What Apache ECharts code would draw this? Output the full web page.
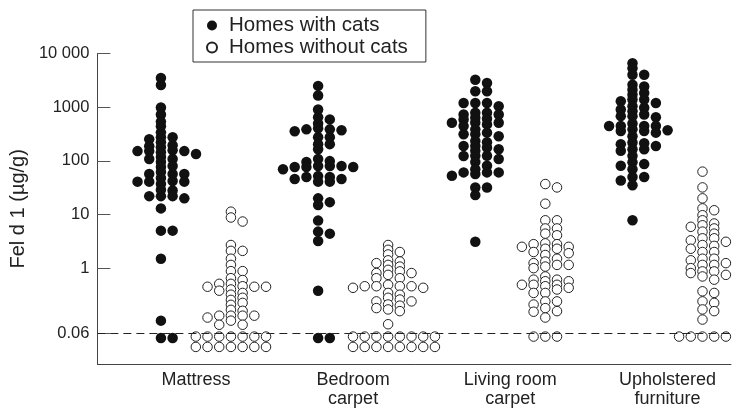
<!DOCTYPE html>
<html>
<head>
<meta charset="utf-8">
<script src="https://cdn.jsdelivr.net/npm/echarts@6/dist/echarts.min.js"></script>
<style>html,body{margin:0;padding:0;background:#fff}#c{width:734px;height:409px}</style>
</head>
<body>
<div id="c"></div>
<script>
// ---- Data ----
const categories = ['Mattress', 'Bedroom\ncarpet', 'Living room\ncarpet', 'Upholstered\nfurniture'];
const seriesNames = ['Homes with cats', 'Homes without cats'];
const yTickValues = [0.06, 1, 10, 100, 1000, 10000];
const yTickLabels = ['0.06', '1', '10', '100', '1000', '10 000'];
const detectionLimit = 0.06;

const mattressCats = [3500, 2600, 990, 730, 540, 440, 275, 196, 145, 108, 80, 62, 48, 37, 29, 22, 13, 5, 1.5, 0.105, 0.05,
  340, 223, 152, 108, 77, 57, 41, 22, 5, 0.05,
  152, 57, 152,
  275, 188, 134, 95, 57, 41, 28, 20,
  253, 180, 118, 42, 22,
  158, 41];
const bedroomCats = [2500, 1650, 910, 650, 500, 371, 275, 205, 165, 99, 77, 50, 20, 15, 7.7, 4.4, 3.2, 0.38, 0.05,
  387, 275, 205, 95, 70, 50, 17,
  404, 77, 41, 77, 41,
  593, 387, 108, 80, 46, 4.8, 0.05,
  356, 80, 52, 80, 46];
const livingCats = [3250, 1980, 1200, 790, 521, 387, 287, 223, 165, 123, 95, 70, 57, 32, 23, 3.1,
  2830, 1980, 1200, 790, 446, 313, 235, 154, 108, 81, 61,
  1200, 733, 479, 313, 178, 124, 61, 32,
  733, 515, 336, 190, 53,
  1040, 637, 515, 190, 124, 61,
  610, 593];
const upholsteredCats = [6600, 5350, 4020, 2120, 1290, 844, 650, 500, 371, 287, 213, 165, 124, 87, 70, 43, 35, 7.8,
  4020, 2440, 1850, 1390, 1040, 733, 446, 360, 220, 165, 94, 50,
  446, 360,
  2630, 1720, 1390, 975, 682, 446, 336, 205, 154, 81, 50,
  1200, 906, 682, 446, 190,
  387];

const mattressNoCats = [11.3, 8.8, 2.7, 2.1, 1.5, 1.15, 0.88, 0.60, 0.45, 0.32, 0.225, 0.16, 0.12, 0.088,
  7.4, 2.1, 0.65, 0.51, 0.38, 0.256, 0.167, 0.13, 0.088,
  0.88, 0.46, 0.345, 0.28, 0.207, 0.13,
  0.45, 0.13,
  0.51, 0.40, 0.13, 0.105,
  0.45,
  0.053, 0.053, 0.053, 0.053, 0.053, 0.053, 0.053,
  0.034, 0.034, 0.034, 0.034, 0.034, 0.034, 0.034];
const bedroomNoCats = [2.7, 2.0, 1.15, 0.87, 0.65, 0.46, 0.32, 0.24, 0.18, 0.09,
  2.2, 1.4, 0.93, 0.65, 0.49, 0.345, 0.24, 0.17,
  1.8, 1.07, 0.46, 0.26, 0.20,
  1.24, 0.81, 0.46, 0.28, 0.21, 0.158,
  1.33, 0.81, 0.46,
  0.75, 0.43,
  0.43,
  0.053, 0.053, 0.053, 0.053, 0.053, 0.053, 0.053, 0.053,
  0.034, 0.034, 0.034, 0.034, 0.034, 0.034, 0.034, 0.034];
const livingNoCats = [37, 15.9, 7.8, 5.5, 4.4, 2.9, 2.3, 1.9, 1.5, 1.07, 0.57, 0.40, 0.24, 0.158, 0.12,
  7.8, 5.5, 4.1, 2.5, 1.76, 1.33, 1.0, 0.70, 0.49, 0.345, 0.24, 0.18,
  32, 2.8, 2.3, 1.15, 0.61, 0.49, 0.345, 0.21, 0.154,
  2.8, 1.24, 0.61, 0.46,
  2.5, 2.0, 1.15, 0.57, 0.43,
  0.49,
  0.053, 0.053, 0.053];
const upholsteredNoCats = [63, 32, 20, 13, 9.7, 7.8, 6.3, 4.8, 3.6, 2.7, 2.0, 1.5, 1.15, 0.87, 0.61, 0.37, 0.24, 0.158, 0.11,
  12, 5.9, 3.6, 2.3, 1.15, 0.75, 0.17,
  2.6, 1.4, 0.87,
  6.8, 4.4, 3.1, 2.0, 1.24, 0.81, 0.345, 0.225,
  5.5, 3.3, 1.5, 1.0, 0.70,
  0.053, 0.053, 0.053, 0.053, 0.053];

const catsGroups = [mattressCats, bedroomCats, livingCats, upholsteredCats];
const noCatsGroups = [mattressNoCats, bedroomNoCats, livingNoCats, upholsteredNoCats];

// ---- Chart ----
const FONT = '"Liberation Sans", Arial, Helvetica, sans-serif';
const TEXT = '#222';
const chart = echarts.init(document.getElementById('c'));

function yLabel(v) {
  for (let i = 0; i < yTickValues.length; i++) {
    if (Math.abs(Math.log10(v) - Math.log10(yTickValues[i])) < 1e-6) return yTickLabels[i];
  }
  return '';
}

chart.setOption({
  animation: false,
  backgroundColor: '#fff',
  grid: { left: 97, right: 3, top: 53.6, bottom: 42.3 },
  legend: {
    orient: 'vertical', left: 193, top: 10,
    data: seriesNames,
    icon: 'circle', itemWidth: 24, itemHeight: 10, itemGap: 1,
    padding: [5, 18, 4, 13],
    borderColor: '#333', borderWidth: 1,
    textStyle: { fontFamily: FONT, fontSize: 20.5, color: TEXT }
  },
  xAxis: {
    type: 'value', min: 0.373, max: 4.404,
    axisLine: { show: true, onZero: false, lineStyle: { color: '#444', width: 1 } },
    axisTick: { show: false },
    splitLine: { show: false },
    axisLabel: {
      customValues: [1, 2, 3, 4],
      formatter: v => categories[Math.round(v) - 1] || '',
      fontFamily: FONT, fontSize: 18, color: TEXT, lineHeight: 19, margin: 7
    }
  },
  yAxis: {
    type: 'log', logBase: 10, min: 0.01633, max: 10000,
    name: 'Fel d 1 (µg/g)', nameLocation: 'middle', nameGap: 62,
    nameTextStyle: { fontFamily: FONT, fontSize: 20, color: TEXT },
    axisLine: { show: true, lineStyle: { color: '#444', width: 1 } },
    axisTick: { show: true, inside: true, length: 13, customValues: yTickValues, lineStyle: { color: '#555' } },
    axisLabel: { customValues: yTickValues, formatter: yLabel, fontFamily: FONT, fontSize: 16.5, color: TEXT, margin: 8 },
    splitLine: { show: false }
  },
  series: []
});

// Beeswarm layout computed from pixel positions given by the axes
const COL_PX = 11.7, MIN_GAP = 4.5, SIDE_PX = 35;
const pxUnit = chart.convertToPixel({ xAxisIndex: 0 }, 2) - chart.convertToPixel({ xAxisIndex: 0 }, 1);
function swarm(values, center) {
  const sorted = values.slice().sort((a, b) => b - a);
  const placed = [];
  const out = [];
  sorted.forEach(v => {
    const py = chart.convertToPixel({ yAxisIndex: 0 }, v);
    let k = 0, col = 0;
    while (true) {
      col = k === 0 ? 0 : (k % 2 === 1 ? Math.ceil(k / 2) : -k / 2);
      if (!placed.some(p => p.col === col && Math.abs(p.py - py) < MIN_GAP)) break;
      k++;
    }
    placed.push({ col, py });
    out.push([center + col * COL_PX / pxUnit, v]);
  });
  return out;
}

const catsData = [], noCatsData = [];
categories.forEach((c, i) => {
  swarm(catsGroups[i], i + 1 - SIDE_PX / pxUnit).forEach(d => catsData.push(d));
  swarm(noCatsGroups[i], i + 1 + SIDE_PX / pxUnit).forEach(d => noCatsData.push(d));
});

chart.setOption({
  series: [
    {
      name: 'limit', type: 'scatter', data: [], z: 1, silent: true,
      markLine: {
        silent: true, symbol: 'none', label: { show: false },
        lineStyle: { type: [8, 5], color: '#222', width: 1 },
        data: [{ yAxis: detectionLimit }]
      }
    },
    {
      name: seriesNames[0], type: 'scatter', z: 3, data: catsData,
      symbol: 'circle', symbolSize: 10.5,
      itemStyle: { color: '#111', opacity: 1 }
    },
    {
      name: seriesNames[1], type: 'scatter', z: 3, data: noCatsData,
      symbol: 'circle', symbolSize: 9.5,
      itemStyle: { color: '#fff', borderColor: '#222', borderWidth: 1, opacity: 1 }
    }
  ]
});
</script>
</body>
</html>
